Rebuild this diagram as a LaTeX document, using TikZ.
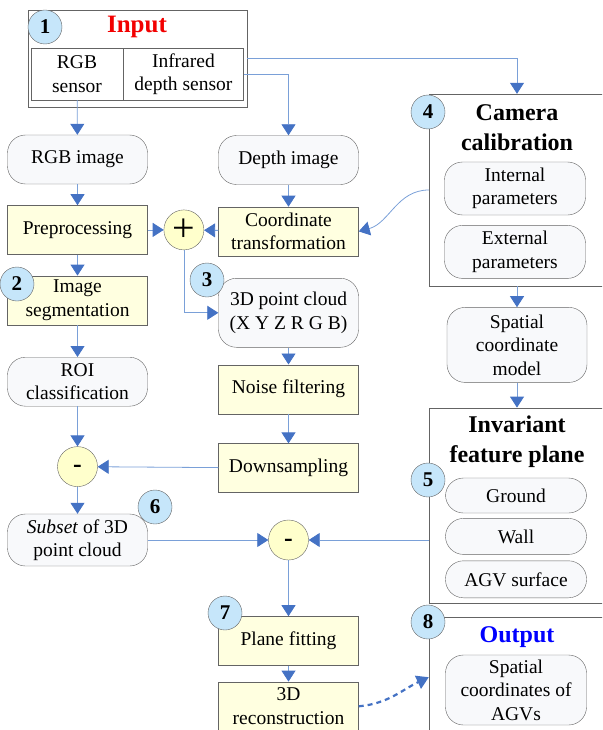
\documentclass[tikz,border=0pt]{standalone}
\usepackage{fontspec}
\setmainfont{Liberation Serif}
\usetikzlibrary{positioning,arrows.meta,calc}

\definecolor{lineblue}{RGB}{122,160,216}
\definecolor{tipblue}{RGB}{68,114,196}
\definecolor{procfill}{RGB}{255,255,224}
\definecolor{datafill}{RGB}{248,249,251}
\definecolor{tagfill}{RGB}{198,230,250}
\definecolor{opfill}{RGB}{255,255,204}
\definecolor{edgegray}{RGB}{100,100,100}

\newcommand{\bodyfont}{\fontsize{19.5}{23.5}\selectfont}
\newcommand{\headfont}{\fontsize{24}{30}\selectfont\bfseries}
\newcommand{\tagfont}{\fontsize{21}{21}\selectfont\bfseries}

\begin{document}
\begin{tikzpicture}[x=1pt,y=-1pt,
    procbox/.style={rectangle, draw=edgegray, fill=procfill, minimum width=140pt, minimum height=49pt, inner sep=2pt, align=center, font=\bodyfont},
    databox/.style={rectangle, rounded corners=18pt, draw=edgegray, fill=datafill, minimum width=140pt, minimum height=49pt, inner sep=2pt, align=center, font=\bodyfont},
    bigbox/.style={rectangle, draw=edgegray, fill=white, minimum width=176pt},
    sensor/.style={rectangle, draw=edgegray, minimum height=52pt, inner sep=1pt, align=center, font=\bodyfont},
    numtag/.style={circle, draw=edgegray, fill=tagfill, minimum size=34pt, inner sep=0pt, font=\tagfont},
    op/.style={circle, draw=edgegray, fill=opfill, minimum size=40pt, inner sep=0pt},
    minusop/.style={op, font=\fontsize{26}{26}\selectfont\bfseries, text height=12.5pt, text depth=0pt},
    heading/.style={align=center, font=\headfont},
    flow/.style={draw=lineblue, line width=0.8pt, -{Triangle[width=14pt,length=11pt,color=tipblue]}},
    dashflow/.style={draw=tipblue, line width=2.2pt, dash pattern=on 5pt off 4pt, -{Triangle[width=14pt,length=12pt]}}]
        \useasboundingbox (0,0) rectangle (602,730);
        \clip (0,0) rectangle (602,730);

        % Input
        \node [rectangle, draw=edgegray, minimum width=219pt, minimum height=97pt] (inbox) at (137.5,58.5) {};
        \node [heading, text=red!95!black, font=\fontsize{25}{30}\selectfont\bfseries] (intitle) at (137,27) {Input};
        \node [sensor, minimum width=92pt] (rgbsens) at (77,74) {RGB\\sensor};
        \node [sensor, minimum width=120pt, right=0pt of rgbsens] (irsens) {Infrared\\depth sensor};

        % Left column
        \node [databox] (rgbimg) at (77.5,159.5) {RGB image};
        \node [procbox, below=21pt of rgbimg] (prep) {Preprocessing};
        \node [procbox, below=21pt of prep] (seg) {Image\\segmentation};
        \node [databox, below=32pt of seg] (roi) {ROI\\classification};
        \node [minusop, below=40pt of roi] (minus1) {-};
        \node [databox, below=27pt of minus1, minimum height=52pt] (subset) {\textit{Subset} of 3D\\point cloud};

        % Middle column
        \node [databox] (depth) at (288.5,160) {Depth image};
        \node [procbox, below=22pt of depth] (coord) {Coordinate\\transformation};
        \node [op, right=16pt of prep, font=\fontsize{40}{40}\selectfont] (plus) {+};
        \node [databox, below=22pt of coord, minimum height=69pt] (cloud) {3D point cloud\\(X Y Z R G B)};
        \node [procbox, below=17pt of cloud] (noise) {Noise filtering};
        \node [procbox, below=29.5pt of noise] (down) {Downsampling};
        \node [minusop] (minus2) at (down |- subset) {-};
        \node [procbox, below=56pt of minus2] (plane) {Plane fitting};
        \node [procbox, below=16pt of plane] (recon) {3D\\reconstruction};

        % Right column
        \node [bigbox, minimum height=192pt] (calib) at (517,190) {};
        \node [heading] (caltitle) at (517,128) {Camera\\calibration};
        \node [databox, minimum width=141pt, minimum height=53pt] (intpar) at (515,188.5) {Internal\\parameters};
        \node [databox, minimum width=141pt, minimum height=53pt, below=10pt of intpar] (extpar) {External\\parameters};
        \node [databox, minimum height=75pt, below=21pt of calib] (spmodel) {Spatial\\coordinate\\model};
        \node [bigbox, minimum height=195pt, below=25pt of spmodel] (invbox) {};
        \node [heading] (invtitle) at (517,442) {Invariant\\feature plane};
        \node [databox, minimum width=141pt, minimum height=35pt] (ground) at (516,495.5) {Ground};
        \node [databox, minimum width=141pt, minimum height=36pt, below=5pt of ground] (wall) {Wall};
        \node [databox, minimum width=141pt, minimum height=37pt, below=6pt of wall] (agvsurf) {AGV surface};
        \node [bigbox, minimum height=150pt, below=14pt of invbox] (outbox) {};
        \node [heading, text=blue] (outtitle) at (517,637) {Output};
        \node [databox, minimum width=141pt, minimum height=70pt] (agvpos) at (516,690) {Spatial\\coordinates of\\AGVs};

        % Step numbers
        \node [numtag] (tag1) at (45,27) {1};
        \node [numtag] (tag2) at (17,284) {2};
        \node [numtag] (tag3) at (207,280) {3};
        \node [numtag] (tag4) at (428,112) {4};
        \node [numtag] (tag5) at (428,480) {5};
        \node [numtag] (tag6) at (155,507) {6};
        \node [numtag] (tag7) at (225,613) {7};
        \node [numtag] (tag8) at (428,622) {8};

        % Arrows
        \draw [flow] (rgbsens) -- (rgbimg);
        \draw [flow] (irsens.east) -| (depth.north);
        \draw [flow] (inbox.east) -| (calib.north);
        \draw [flow] (rgbimg) -- (prep);
        \draw [flow] (prep) -- (seg);
        \draw [flow] (seg) -- (roi);
        \draw [flow] (roi) -- (minus1);
        \draw [flow] (minus1) -- (subset);
        \draw [flow] (depth) -- (coord);
        \draw [flow] (prep) -- (plus);
        \draw [flow] (coord) -- (plus);
        \draw [flow] (plus.south) |- (cloud.west);
        \draw [flow] (cloud) -- (noise);
        \draw [flow] (noise) -- (down);
        \draw [flow] (down) -- (minus1);
        \draw [flow] (calib.west) to[out=180,in=15] (coord.east);
        \draw [flow] (calib) -- (spmodel);
        \draw [flow] (spmodel) -- (invbox);
        \draw [flow] (subset) -- (minus2);
        \draw [flow] (invbox.west |- minus2.east) -- (minus2.east);
        \draw [flow] (minus2) -- (plane);
        \draw [flow] (plane) -- (recon);
        \draw [dashflow] (recon.east) to[out=5,in=205] ([yshift=15pt]outbox.west);
\end{tikzpicture}
\end{document}
